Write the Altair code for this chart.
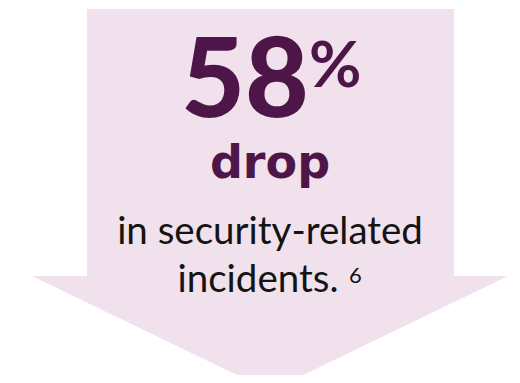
import altair as alt
import pandas as pd

# Arrow outline (page pixel coordinates)
shaft_x = [87, 454]
shaft_y = [9, 276]
head_x = [32, 270, 508]
head_top = [276, 276, 276]
head_bottom = [276, 391, 276]

stat_value = "58"
stat_unit = "%"
stat_word = "drop"
desc_lines = ["in security-related", "incidents."]
footnote = "6"

PINK = "#F0E1EC"
PURPLE = "#4E1548"
INK = "#141414"

W, H = 504, 367
xs = alt.Scale(domain=[8, 8 + W], range=[0, W], nice=False, zero=False)
ys = alt.Scale(domain=[8, 8 + H], range=[0, H], nice=False, zero=False)

shaft_df = pd.DataFrame({"x": [shaft_x[0]], "x2": [shaft_x[1]], "y": [shaft_y[0]], "y2": [shaft_y[1]]})
head_df = pd.DataFrame({"x": head_x, "y": head_top, "y2": head_bottom})

shaft = alt.Chart(shaft_df).mark_rect(color=PINK, clip=True).encode(
    x=alt.X("x:Q", scale=xs, axis=None), x2="x2:Q",
    y=alt.Y("y:Q", scale=ys, axis=None), y2="y2:Q",
)
head = alt.Chart(head_df).mark_area(color=PINK, clip=True, opacity=1).encode(
    x=alt.X("x:Q", scale=xs, axis=None),
    y=alt.Y("y:Q", scale=ys, axis=None), y2="y2:Q",
)

def txt(text, x, y, size, color, weight="normal", align="center", font="Lato"):
    return alt.Chart(pd.DataFrame({"t": [text]})).mark_text(
        font=font, fontSize=size, fontWeight=weight, color=color,
        align=align, baseline="alphabetic",
    ).encode(
        x=alt.datum(x, scale=xs), y=alt.datum(y, scale=ys), text="t:N"
    )

layers = [
    shaft, head,
    txt(stat_value, 245, 117, 110, PURPLE, weight=900),
    txt(stat_unit, 309, 87, 64, PURPLE, weight=700, align="left"),
    txt(stat_word, 270, 178, 46, PURPLE, weight="bold", font="DejaVu Sans"),
    txt(desc_lines[0], 270, 244, 38.5, INK),
    txt(desc_lines[1], 258, 292, 38.5, INK),
    txt(footnote, 349, 283, 22, INK, align="left"),
]

chart = alt.layer(*layers).properties(
    width=W, height=H, padding=0, background="white",
    autosize=alt.AutoSizeParams(type="none"),
).configure_view(stroke=None, strokeWidth=0)

chart.save("out.html", embed_options={"renderer": "svg", "actions": False})
